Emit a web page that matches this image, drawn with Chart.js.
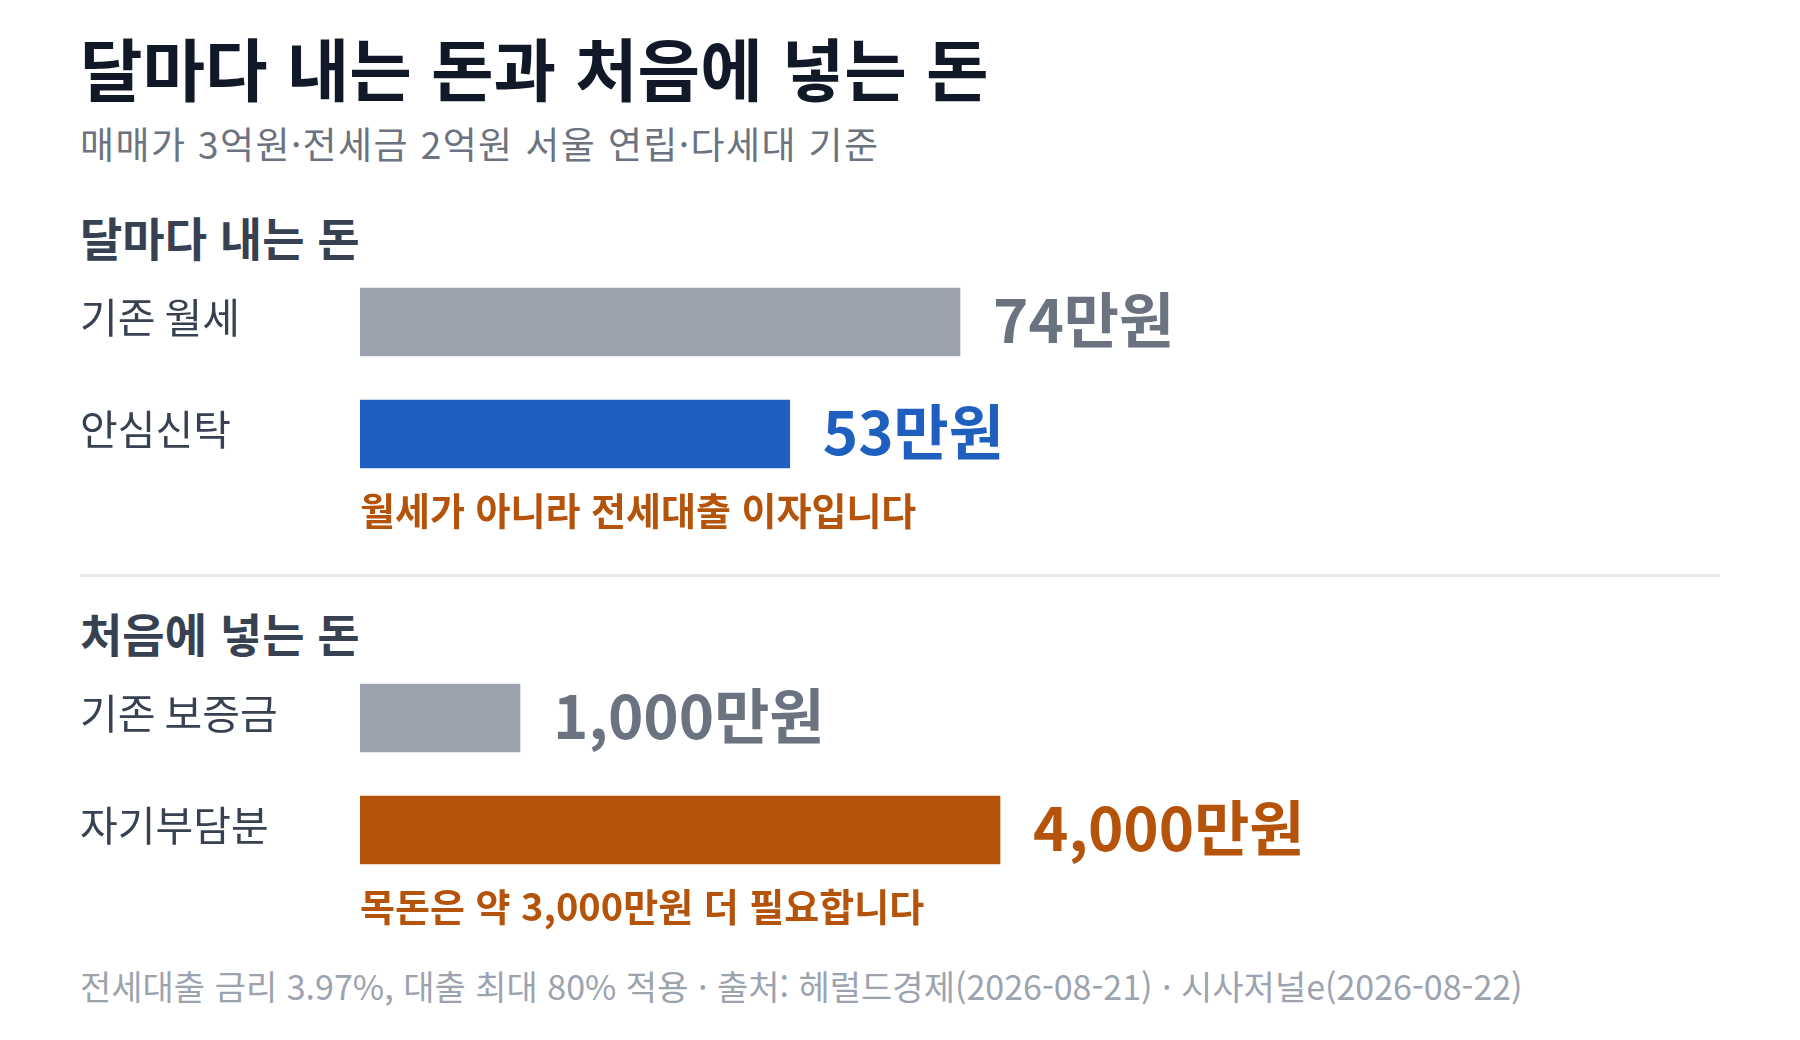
<!DOCTYPE html>
<html lang="ko">
<head>
<meta charset="utf-8">
<script src="https://cdn.jsdelivr.net/npm/chart.js@4.4.1/dist/chart.umd.min.js"></script>
<style>
  html, body { margin: 0; padding: 0; background: #ffffff; }
  body { width: 1800px; height: 1040px; position: relative; overflow: hidden;
         font-family: "Noto Sans CJK KR", "Noto Sans", sans-serif; }
  .t { position: absolute; left: 80px; line-height: 1; white-space: nowrap; }
  #title { top: 33px; font-size: 68px; font-weight: 700; color: #111827; }
  #subtitle { top: 125px; font-size: 37px; letter-spacing: 1.4px; color: #6b7280; }
  .head { font-size: 46px; font-weight: 700; color: #374151; }
  #head1 { top: 213px; }
  #head2 { top: 609px; }
  .note { left: 360px; font-size: 38px; font-weight: 700; color: #b45309; }
  #note1 { top: 490px; }
  #note2 { top: 886px; }
  #rule { position: absolute; left: 80px; top: 574px; width: 1640px; height: 3px; background: #e5e7eb; }
  #foot { top: 969px; font-size: 34px; color: #9ca3af; }
  .box { position: absolute; left: 80px; width: 1640px; height: 224px; }
  #box1 { top: 266px; }
  #box2 { top: 662px; }
</style>
</head>
<body>
<div class="t" id="title">달마다 내는 돈과 처음에 넣는 돈</div>
<div class="t" id="subtitle">매매가 3억원·전세금 2억원 서울 연립·다세대 기준</div>
<div class="t head" id="head1">달마다 내는 돈</div>
<div class="box" id="box1"><canvas id="monthly"></canvas></div>
<div class="t note" id="note1">월세가 아니라 전세대출 이자입니다</div>
<div id="rule"></div>
<div class="t head" id="head2">처음에 넣는 돈</div>
<div class="box" id="box2"><canvas id="deposit"></canvas></div>
<div class="t note" id="note2">목돈은 약 3,000만원 더 필요합니다</div>
<div class="t" id="foot">전세대출 금리 3.97%, 대출 최대 80% 적용 · 출처: 헤럴드경제(2026-08-21) · 시사저널e(2026-08-22)</div>

<script>
// 달마다 내는 돈 (만원)
const monthlyLabels = ['기존 월세', '안심신탁'];
const monthlyValues = [74, 53];
// 처음에 넣는 돈 (만원)
const depositLabels = ['기존 보증금', '자기부담분'];
const depositValues = [1000, 4000];

const barColors1 = ['#9ca3af', '#1f5fbf'];
const textColors1 = ['#6b7280', '#1f5fbf'];
const barColors2 = ['#9ca3af', '#b5530b'];
const textColors2 = ['#6b7280', '#b5530b'];

const FONT = '"Noto Sans CJK KR", "Noto Sans", sans-serif';

// 막대 끝에 값 표시
const valueLabels = {
  id: 'valueLabels',
  afterDatasetsDraw(chart, args, opts) {
    const ctx = chart.ctx;
    const meta = chart.getDatasetMeta(0);
    ctx.save();
    ctx.font = '700 60px ' + FONT;
    ctx.textAlign = 'left';
    ctx.textBaseline = 'middle';
    meta.data.forEach((bar, i) => {
      const v = chart.data.datasets[0].data[i];
      ctx.fillStyle = opts.colors[i];
      ctx.fillText(v.toLocaleString('en-US') + '만원', bar.x + 33, bar.y - 2);
    });
    ctx.restore();
  }
};

function makeChart(id, labels, values, max, barColors, textColors) {
  return new Chart(document.getElementById(id), {
    type: 'bar',
    data: {
      labels: labels,
      datasets: [{
        data: values,
        backgroundColor: barColors,
        borderWidth: 0,
        barThickness: 68
      }]
    },
    options: {
      indexAxis: 'y',
      responsive: true,
      maintainAspectRatio: false,
      animation: false,
      layout: { padding: { left: 0, right: 460, top: 0, bottom: 0 } },
      plugins: {
        legend: { display: false },
        tooltip: { enabled: false },
        valueLabels: { colors: textColors }
      },
      scales: {
        x: { display: false, min: 0, max: max },
        y: {
          grid: { display: false },
          border: { display: false },
          afterFit(scale) {
            scale.width = 280;
            scale.paddingTop = 0;
            scale.paddingBottom = 0;
          },
          ticks: {
            crossAlign: 'far',
            labelOffset: -5,
            color: '#374151',
            font: { family: FONT, size: 41, weight: '400' }
          }
        }
      }
    },
    plugins: [valueLabels]
  });
}

makeChart('monthly', monthlyLabels, monthlyValues, 111, barColors1, textColors1);
makeChart('deposit', depositLabels, depositValues, 5625, barColors2, textColors2);
</script>
</body>
</html>
